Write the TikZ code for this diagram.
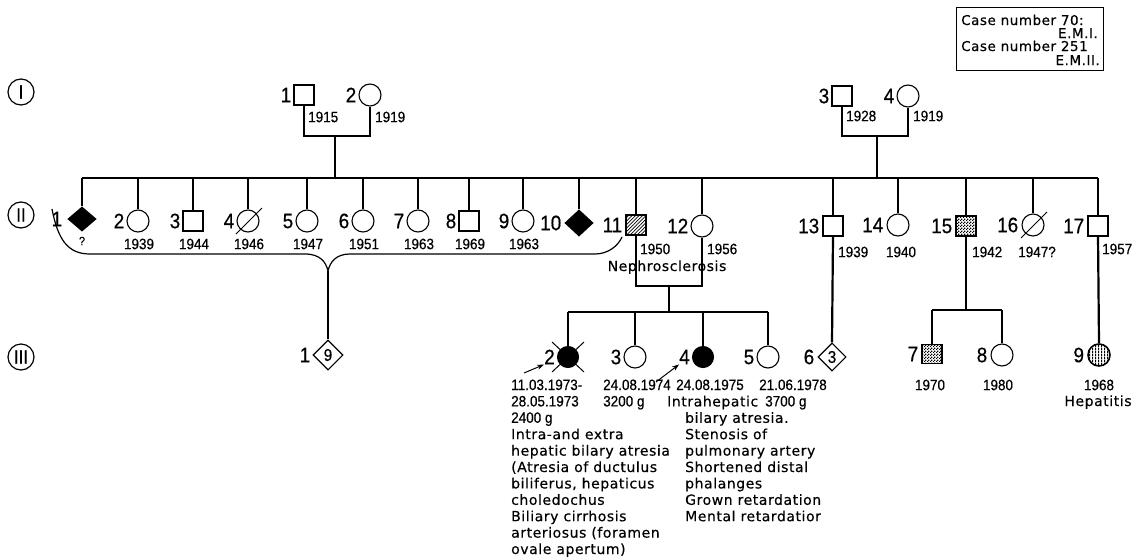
\documentclass[tikz,border=0pt]{standalone}
\usepackage{fontspec}
\newfontfamily\wf{DejaVu Sans}[LetterSpace=4, FakeBold=0.4]
\newfontfamily\nf{Liberation Sans}[FakeStretch=0.9, FakeBold=0.5]
\usetikzlibrary{shapes.geometric,patterns,arrows.meta}
\pgfdeclarepatternformonly{finecheck}{\pgfqpoint{0pt}{0pt}}{\pgfqpoint{3pt}{3pt}}{\pgfqpoint{3pt}{3pt}}{%
  \pgfpathrectangle{\pgfqpoint{0pt}{0pt}}{\pgfqpoint{1.5pt}{1.5pt}}%
  \pgfpathrectangle{\pgfqpoint{1.5pt}{1.5pt}}{\pgfqpoint{1.5pt}{1.5pt}}%
  \pgfusepath{fill}}
\pgfdeclarepatternformonly{vlines}{\pgfqpoint{0pt}{0pt}}{\pgfqpoint{3pt}{3pt}}{\pgfqpoint{3pt}{3pt}}{%
  \pgfpathrectangle{\pgfqpoint{0pt}{0pt}}{\pgfqpoint{1.4pt}{3pt}}%
  \pgfusepath{fill}}
\pgfdeclarepatternformonly{nelines}{\pgfqpoint{-1pt}{-1pt}}{\pgfqpoint{4pt}{4pt}}{\pgfqpoint{3.5pt}{3.5pt}}{%
  \pgfsetlinewidth{0.7pt}%
  \pgfpathmoveto{\pgfqpoint{0pt}{0pt}}\pgfpathlineto{\pgfqpoint{3.6pt}{3.6pt}}%
  \pgfusepath{stroke}}
\begin{document}
\begin{tikzpicture}[x=1pt,y=-1pt,
  ln/.style={line width=2.2pt},
  sym/.style={draw, line width=1.1pt, inner sep=0pt},
  sq/.style={sym, rectangle, minimum size=20pt},
  ci/.style={sym, circle, minimum size=22pt},
  dm/.style={sym, diamond, minimum width=28pt, minimum height=26pt},
  pn/.style={font=\nf\fontsize{21}{23}\selectfont, inner sep=0pt},
  num/.style={font=\nf\fontsize{15}{17}\selectfont, inner sep=0pt},
  wd/.style={font=\wf\fontsize{14}{16}\selectfont, inner sep=0pt},
  bx/.style={font=\wf\fontsize{13.5}{14}\selectfont, inner sep=0pt},
  rom/.style={draw, circle, line width=1.2pt, minimum size=26pt, inner sep=0pt, font=\nf\fontsize{19}{19}\selectfont},
  arr/.style={line width=1pt, -{Stealth[length=7pt,width=5pt]}}
]
\useasboundingbox (0,0) rectangle (1145,557);

% generation numerals
\node[rom] (gI) at (21,92) {I};
\node[rom] (gII) at (21,215) {II};
\node[rom] (gIII) at (21,357) {III};

% case box
\node[draw, line width=1pt, minimum width=147pt, minimum height=63pt, inner sep=0pt] (case) at (1029.5,38.5) {};
\node[bx, anchor=base west] (ct1) at (961,25) {Case number 70:};
\node[bx, anchor=base east] (ct2) at (1098,38) {E.M.I.};
\node[bx, anchor=base west] (ct3) at (961,51) {Case number 251};
\node[bx, anchor=base east] (ct4) at (1100,65) {E.M.II.};

% generation I
\node[sq] (I1) at (304,95) {};
\node[ci] (I2) at (370,95) {};
\node[pn, anchor=east] (lI1) at ([xshift=-2pt]I1.west) {1};
\node[pn, anchor=east] (lI2) at ([xshift=-2pt]I2.west) {2};
\node[num, anchor=west] (yI1) at (308,117) {1915};
\node[num, anchor=west] (yI2) at (375,117) {1919};
\coordinate (cI12) at (335,136);
\draw[ln] (I1.south) |- (cI12) -| (I2.south);

\node[sq] (I3) at (842,96) {};
\node[ci] (I4) at (908,96) {};
\node[pn, anchor=east] (lI3) at ([xshift=-2pt]I3.west) {3};
\node[pn, anchor=east] (lI4) at ([xshift=-2pt]I4.west) {4};
\node[num, anchor=west] (yI3) at (846,116) {1928};
\node[num, anchor=west] (yI4) at (913,116) {1919};
\coordinate (cI34) at (877,136);
\draw[ln] (I3.south) |- (cI34) -| (I4.south);

% sibship line II
\coordinate (sL) at (82,178);
\coordinate (sR) at (1098,178);
\draw[ln] (sL) -- (sR);
\draw[ln] (cI12) -- (cI12 |- sL);
\draw[ln] (cI34) -- (cI34 |- sL);

% generation II, left family
\node[dm, fill=black, minimum height=24pt] (II1) at (82,219) {};
\node[pn, anchor=east] (lII1) at ([xshift=-5pt]II1.west) {1};
\node[num, font=\nf\fontsize{12}{14}\selectfont] (qII1) at (82,241) {?};
\draw[ln] (sL) -- (II1.north);

\foreach \n/\x/\s/\yr in {2/138/ci/1939, 3/193/sq/1944, 4/248/ci/1946, 5/307/ci/1947, 6/363/ci/1951, 7/418/ci/1963, 8/469/sq/1969, 9/523/ci/1963} {
  \node[\s] (II\n) at (\x,221) {};
  \node[pn, anchor=east] (lII\n) at ([xshift=-2pt]II\n.west) {\n};
  \node[num] (yII\n) at (\x+1,244) {\yr};
  \draw[ln] (II\n |- sL) -- (II\n.north);
}
\draw[line width=1pt] ([shift={(-12,13)}]II4.center) -- ([shift={(14,-13)}]II4.center);

\node[dm, fill=black] (II10) at (579,223) {};
\node[pn, anchor=east] (lII10) at ([xshift=-3pt]II10.west) {10};
\draw[ln] (II10 |- sL) -- (II10.north);

\node[sq, pattern=nelines] (II11) at (636,225) {};
\node[pn, anchor=east] (lII11) at ([xshift=-3pt]II11.west) {11};
\draw[ln] (II11 |- sL) -- (II11.north);
\node[ci] (II12) at (702,226) {};
\node[pn, anchor=east] (lII12) at ([xshift=-2pt]II12.west) {12};
\draw[ln] (II12 |- sL) -- (II12.north);
\node[num, anchor=west] (yII11) at (640,249) {1950};
\node[num, anchor=west] (yII12) at (707,249) {1956};
\node[wd, anchor=base] (neph) at (667,271) {Nephrosclerosis};
\coordinate (c1112) at (669,286);
\draw[ln] (II11.south) |- (c1112) -| (II12.south);

% generation II, right family
\node[sq] (II13) at (833,226) {};
\node[ci] (II14) at (898,225) {};
\node[sq, pattern=finecheck] (II15) at (966,226) {};
\node[ci] (II16) at (1033,225) {};
\node[sq] (II17) at (1098,226) {};
\foreach \n in {13,14,15,16,17} {
  \node[pn, anchor=east] (lII\n) at ([xshift=-3pt]II\n.west) {\n};
  \draw[ln] (II\n |- sL) -- (II\n.north);
}
\draw[line width=1pt] ([shift={(-12,13)}]II16.center) -- ([shift={(14,-13)}]II16.center);
\node[num, anchor=west] (yII13) at (838,252) {1939};
\node[num] (yII14) at (901,252) {1940};
\node[num, anchor=west] (yII15) at (972,252) {1942};
\node[num] (yII16) at (1037,252) {1947?};
\node[num, anchor=west] (yII17) at (1102,249) {1957};

% brace
\coordinate (brtip) at (328,271);
\draw[line width=1.2pt] (52,209) .. controls (58,240) and (68,254) .. (90,254) -- (305,254)
  .. controls (320,254) and (326,262) .. (brtip)
  .. controls (330,262) and (336,254) .. (350,254) -- (595,254)
  .. controls (608,254) and (618,246) .. (622,237);

% generation III
\node[dm, minimum width=30pt, minimum height=30pt, font=\nf\fontsize{17}{17}\selectfont] (III1) at (328,355) {9};
\node[pn, anchor=east] (lIII1) at ([xshift=-2pt]III1.west) {1};
\draw[ln] (brtip) -- (III1.north);

\coordinate (s3L) at (568,312);
\coordinate (s3R) at (768,312);
\draw[ln] (c1112) -- (c1112 |- s3L);
\draw[ln] (s3L) -- (s3R);
\node[ci, fill=black, minimum size=21pt] (III2) at (568,357) {};
\node[ci] (III3) at (635,357) {};
\node[ci, fill=black, minimum size=21pt] (III4) at (703,357) {};
\node[ci] (III5) at (768,357) {};
\foreach \n in {2,3,4,5} {
  \node[pn, anchor=east] (lIII\n) at ([xshift=-2pt]III\n.west) {\n};
  \draw[ln] (III\n |- s3L) -- (III\n.north);
}
\draw[line width=1pt] ([shift={(-16,-15)}]III2.center) -- ([shift={(16,15)}]III2.center);
\draw[line width=1pt] ([shift={(-16,15)}]III2.center) -- ([shift={(16,-15)}]III2.center);
\coordinate (a1) at (524,373);
\coordinate (a2) at (656,382);
\draw[arr] (a1) -- (lIII2.south west);
\draw[arr] (a2) -- (lIII4.south west);

\node[dm, minimum width=28pt, minimum height=28pt, font=\nf\fontsize{17}{17}\selectfont] (III6) at (832,357) {3};
\node[pn, anchor=east] (lIII6) at ([xshift=-3pt]III6.west) {6};
\draw[ln] (II13.south) -- (III6.north);

\coordinate (s4L) at (932,310);
\coordinate (s4R) at (1002,310);
\node[sq, pattern=finecheck, minimum height=19pt] (III7) at (932,354) {};
\node[ci] (III8) at (1002,355) {};
\node[pn, anchor=east] (lIII7) at ([xshift=-3pt]III7.west) {7};
\node[pn, anchor=east] (lIII8) at ([xshift=-3pt]III8.west) {8};
\draw[ln] (II15.south) -- (II15.south |- s4L);
\draw[ln] (s4L) -- (s4R);
\draw[ln] (s4L) -- (III7.north);
\draw[ln] (s4R) -- (III8.north);
\node[num] (yIII7) at (930,385) {1970};
\node[num] (yIII8) at (998,385) {1980};

\node[ci, pattern=vlines, line width=1.6pt] (III9) at (1099,355) {};
\node[pn, anchor=east] (lIII9) at ([xshift=-3pt]III9.west) {9};
\draw[ln] (II17.south) -- (III9.north);
\node[num] (yIII9) at (1099,385) {1968};
\node[wd, anchor=base] (hep) at (1098,406) {Hepatitis};

% notes under III
\node[num, anchor=base west] (t11) at (511,390) {11.03.1973-};
\node[num, anchor=base west] (t12) at (511,406.4) {28.05.1973};
\node[num, anchor=base west] (t13) at (511,422.8) {2400 g};
\node[wd, anchor=base west] (t14) at (511,439.2) {Intra-and extra};
\node[wd, anchor=base west] (t15) at (511,455.6) {hepatic bilary atresia};
\node[wd, anchor=base west] (t16) at (511,472) {(Atresia of ductulus};
\node[wd, anchor=base west] (t17) at (511,488.4) {biliferus, hepaticus};
\node[wd, anchor=base west] (t18) at (511,504.8) {choledochus};
\node[wd, anchor=base west] (t19) at (511,521.2) {Biliary cirrhosis};
\node[wd, anchor=base west] (t110) at (511,537.6) {arteriosus (foramen};
\node[wd, anchor=base west] (t111) at (511,554) {ovale apertum)};

\node[num, anchor=base west] (t21) at (603,390) {24.08.1974};
\node[num, anchor=base west] (t22) at (603,406.4) {3200 g};

\node[num, anchor=base west] (t31) at (676,390) {24.08.1975};
\node[wd, anchor=base west] (t32) at (667,406.4) {Intrahepatic};
\node[wd, anchor=base west] (t33) at (685,422.8) {bilary atresia.};
\node[wd, anchor=base west] (t34) at (685,439.2) {Stenosis of};
\node[wd, anchor=base west] (t35) at (685,455.6) {pulmonary artery};
\node[wd, anchor=base west] (t36) at (685,472) {Shortened distal};
\node[wd, anchor=base west] (t37) at (685,488.4) {phalanges};
\node[wd, anchor=base west] (t38) at (685,504.8) {Grown retardation};
\node[wd, anchor=base west] (t39) at (685,521.2) {Mental retardatior};

\node[num, anchor=base west] (t41) at (759,390) {21.06.1978};
\node[num, anchor=base west] (t42) at (765,406.4) {3700 g};
\end{tikzpicture}
\end{document}
